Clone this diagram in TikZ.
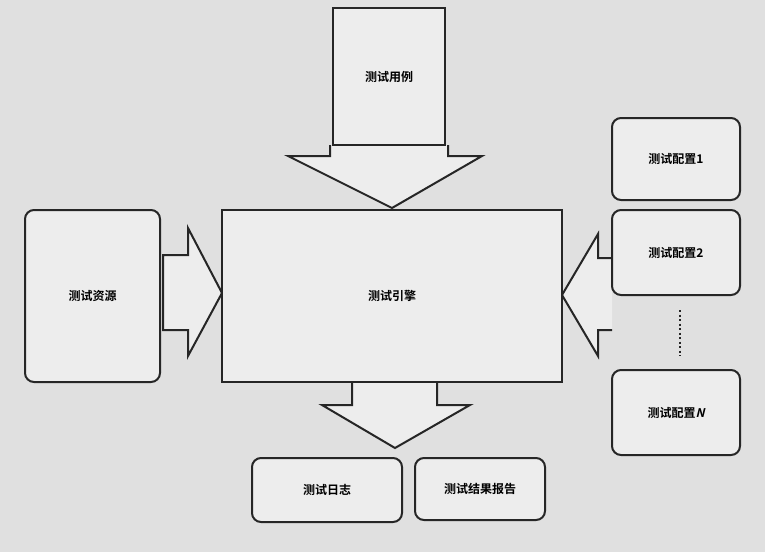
\documentclass[tikz,border=0pt]{standalone}
\usepackage{fontspec}
\newfontfamily\cjk{Noto Sans CJK SC Bold}
\newfontfamily\cjkit[FakeSlant=0.25]{Noto Sans CJK SC Bold}
\begin{document}
\begin{tikzpicture}[x=1pt,y=-1pt,
  box/.style={draw=black!85,line width=2pt,fill=white!93!black,font=\cjk\fontsize{12}{14}\selectfont,inner sep=0pt},
  rbox/.style={box,rounded corners=9pt},
  bigarrow/.style={draw=black!85,line width=2pt,fill=white!93!black,line join=miter}]
\fill[white!88!black] (0,0) rectangle (765,552);
\useasboundingbox (0,0) rectangle (765,552);
% arrows
\draw[bigarrow] (330,145) -- (330,156) -- (288,156) -- (392,208) -- (482,156) -- (448,156) -- (448,145);
\draw[bigarrow] (163,255) -- (188,255) -- (188,228) -- (222,293) -- (188,356) -- (188,330) -- (163,330) -- cycle;
\draw[bigarrow] (612,258) -- (598,258) -- (598,234) -- (562,295) -- (598,356) -- (598,330) -- (612,330);
\draw[bigarrow] (352,382) -- (352,405) -- (322,405) -- (395,448) -- (470,405) -- (437,405) -- (437,382);
% boxes
\node[box,minimum width=112,minimum height=137] (case) at (389,76.5) {测试用例};
\node[box,minimum width=340,minimum height=172] (engine) at (392,296) {测试引擎};
\node[rbox,minimum width=135,minimum height=172] (res) at (92.5,296) {测试资源};
\node[rbox,minimum width=128,minimum height=82] (c1) at (676,159) {测试配置1};
\node[rbox,minimum width=128,minimum height=85] (c2) at (676,252.5) {测试配置2};
\node[rbox,minimum width=128,minimum height=85] (cn) at (676,412.5) {测试配置{\cjkit N}};
\node[rbox,minimum width=150,minimum height=64] (log) at (327,490) {测试日志};
\node[rbox,minimum width=130,minimum height=62] (rep) at (480,489) {测试结果报告};
\draw[black!85,line width=2pt,dash pattern=on 2pt off 2.5pt] (c2.south)++(4,14) -- ++(0,46);
\end{tikzpicture}
\end{document}
